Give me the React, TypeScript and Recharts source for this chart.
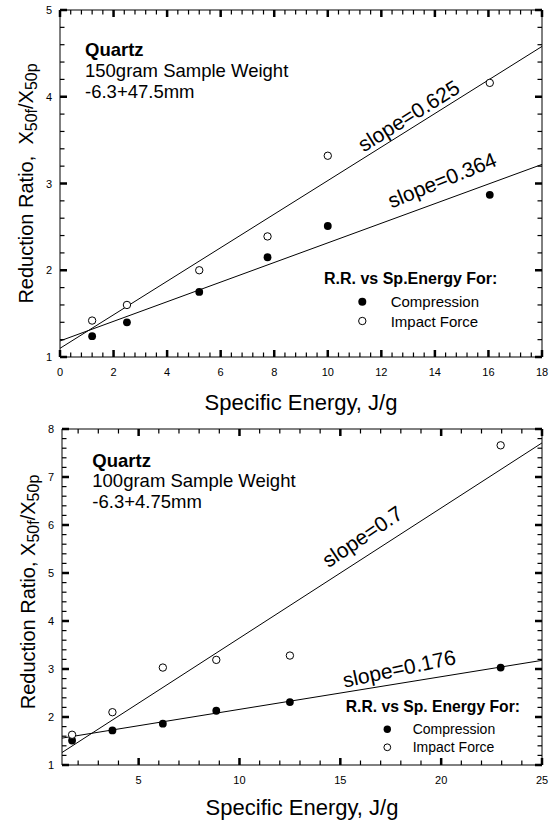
import React from 'react';
import { ScatterChart, Scatter, XAxis, YAxis, ReferenceLine, ReferenceDot } from 'recharts';

document.body.style.margin = '0';

// top panel: 150 gram sample, -6.3+47.5mm
const TOP_ENERGY = [1.2, 2.5, 5.2, 7.75, 10, 16.05];
const TOP_COMPRESSION = [1.24, 1.4, 1.75, 2.15, 2.51, 2.87];
const TOP_IMPACT = [1.42, 1.6, 2.0, 2.39, 3.32, 4.16];
const TOP_FIT_COMPRESSION = [{ x: 0, y: 1.185 }, { x: 18, y: 3.22 }];
const TOP_FIT_IMPACT = [{ x: 0, y: 1.1 }, { x: 18, y: 4.58 }];
const TOP_X_MAJOR = [0, 2, 4, 6, 8, 10, 12, 14, 16, 18];
const TOP_Y_MAJOR = [1, 2, 3, 4, 5];
const TOP_SLOPES = [
  { text: 'slope=0.625', x: 13.02, y: 3.78, angle: -32 },
  { text: 'slope=0.364', x: 14.27, y: 3.04, angle: -22 },
];

// bottom panel: 100 gram sample, -6.3+4.75mm
const BOTTOM_ENERGY = [1.7, 3.7, 6.2, 8.85, 12.5, 22.95];
const BOTTOM_COMPRESSION = [1.51, 1.72, 1.86, 2.13, 2.31, 3.03];
const BOTTOM_IMPACT = [1.63, 2.1, 3.03, 3.19, 3.28, 7.66];
const BOTTOM_FIT_COMPRESSION = [{ x: 1.2, y: 1.56 }, { x: 25, y: 3.18 }];
const BOTTOM_FIT_IMPACT = [{ x: 1.2, y: 1.26 }, { x: 25, y: 7.71 }];
const BOTTOM_X_MAJOR = [5, 10, 15, 20, 25];
const BOTTOM_Y_MAJOR = [1, 2, 3, 4, 5, 6, 7, 8];
const BOTTOM_SLOPES = [
  { text: 'slope=0.7', x: 16.09, y: 5.76, angle: -34 },
  { text: 'slope=0.176', x: 17.92, y: 3.01, angle: -12 },
];

const FONT = 'Arial, "Liberation Sans", sans-serif';
const WIDTH = 550;
const MAJOR = { len: 7, w: 2.5 };
const MINOR = { len: 4.5, w: 1.2 };

const steps = (from: number, to: number, step: number) => {
  const out: number[] = [];
  for (let v = from; v <= to + 1e-9; v += step) out.push(Math.round(v * 1000) / 1000);
  return out;
};
const isMajor = (v: number, majors: number[]) => majors.some((m) => Math.abs(m - v) < 1e-6);

const bottomLabel = (p: any) => (
  <text x={p.x} y={p.y + 19} textAnchor="middle" fontSize={11} fill="#000">{p.payload.value}</text>
);
const leftLabel = (p: any) => (
  <text x={p.x - 8} y={p.y + 4} textAnchor="end" fontSize={11} fill="#000">{p.payload.value}</text>
);
const noLabel = () => <g />;

const filledDot = (p: any) => <circle cx={p.cx} cy={p.cy} r={3.9} fill="#000" />;
const openDot = (p: any) => <circle cx={p.cx} cy={p.cy} r={3.7} fill="#fff" stroke="#000" strokeWidth={1} />;

const yTitle = (gap: string, dx: number, dy: number) => (props: any) => {
  const vb = props.viewBox;
  const cx = vb.x + dx;
  const cy = vb.y + vb.height / 2 + dy;
  return (
    <text x={cx} y={cy} transform={`rotate(-90 ${cx} ${cy})`} textAnchor="middle" fontSize={20} fill="#000" style={{ whiteSpace: 'pre' }}>
      {`Reduction Ratio,${gap}X`}
      <tspan fontSize={16} dy={4}>50f</tspan>
      <tspan fontSize={20} dy={-4}>/X</tspan>
      <tspan fontSize={16} dy={4}>50p</tspan>
    </text>
  );
};
const xTitle = (dy: number) => (props: any) => {
  const vb = props.viewBox;
  return (
    <text x={vb.x + vb.width / 2} y={vb.y + dy} textAnchor="middle" fontSize={22} fill="#000">
      Specific Energy, J/g
    </text>
  );
};

type PanelProps = {
  height: number;
  margin: { top: number; right: number; bottom: number; left: number };
  yAxisWidth: number;
  xAxisHeight: number;
  xDomain: [number, number];
  yDomain: [number, number];
  xAll: number[];
  yAll: number[];
  xMajor: number[];
  yMajor: number[];
  energy: number[];
  compression: number[];
  impact: number[];
  fitCompression: { x: number; y: number }[];
  fitImpact: { x: number; y: number }[];
  slopes: { text: string; x: number; y: number; angle: number }[];
  yLabel: (props: any) => React.ReactNode;
  xLabel: (props: any) => React.ReactNode;
  overlay: React.ReactNode;
};

// inward tick marks on all four sides of the plot frame, placed with the
// same linear mapping the axes use over the plot rectangle
const FrameTicks = (c: PanelProps) => {
  const left = c.margin.left + c.yAxisWidth;
  const right = WIDTH - c.margin.right;
  const top = c.margin.top;
  const bottom = c.height - c.margin.bottom - c.xAxisHeight;
  const sx = (v: number) => left + ((v - c.xDomain[0]) / (c.xDomain[1] - c.xDomain[0])) * (right - left);
  const sy = (v: number) => bottom - ((v - c.yDomain[0]) / (c.yDomain[1] - c.yDomain[0])) * (bottom - top);
  return (
    <g>
      {c.xAll.map((v) => {
        const t = isMajor(v, c.xMajor) ? MAJOR : MINOR;
        const x = sx(v) - t.w / 2;
        return (
          <g key={`x${v}`}>
            <rect x={x} y={bottom - t.len} width={t.w} height={t.len} fill="#000" />
            <rect x={x} y={top} width={t.w} height={t.len} fill="#000" />
          </g>
        );
      })}
      {c.yAll.map((v) => {
        const t = isMajor(v, c.yMajor) ? MAJOR : MINOR;
        const y = sy(v) - t.w / 2;
        return (
          <g key={`y${v}`}>
            <rect x={left} y={y} width={t.len} height={t.w} fill="#000" />
            <rect x={right - t.len} y={y} width={t.len} height={t.w} fill="#000" />
          </g>
        );
      })}
    </g>
  );
};

const Panel = (c: PanelProps) => {
  const comp = c.energy.map((x, i) => ({ x, y: c.compression[i] }));
  const imp = c.energy.map((x, i) => ({ x, y: c.impact[i] }));
  return (
    <div style={{ position: 'relative', width: WIDTH, height: c.height }}>
      <ScatterChart width={WIDTH} height={c.height} margin={c.margin}>
        <XAxis xAxisId="b" type="number" dataKey="x" domain={c.xDomain} allowDataOverflow ticks={c.xMajor} interval={0}
          height={c.xAxisHeight} tickSize={0} tickMargin={0} tickLine={false} tick={bottomLabel}
          axisLine={{ stroke: '#000' }} label={{ content: c.xLabel }} />
        <XAxis xAxisId="t" orientation="top" type="number" domain={c.xDomain} allowDataOverflow ticks={c.xMajor} interval={0}
          mirror height={0.01} tickLine={false} tick={noLabel} axisLine={{ stroke: '#000' }} />
        <YAxis yAxisId="l" type="number" dataKey="y" domain={c.yDomain} allowDataOverflow ticks={c.yMajor} interval={0}
          width={c.yAxisWidth} tickSize={0} tickMargin={0} tickLine={false} tick={leftLabel}
          axisLine={{ stroke: '#000' }} label={{ content: c.yLabel }} />
        <YAxis yAxisId="r" orientation="right" type="number" domain={c.yDomain} allowDataOverflow ticks={c.yMajor} interval={0}
          mirror width={0.01} tickLine={false} tick={noLabel} axisLine={{ stroke: '#000' }} />
        <ReferenceLine xAxisId="b" yAxisId="l" segment={c.fitCompression} stroke="#000" strokeWidth={1} ifOverflow="visible" />
        <ReferenceLine xAxisId="b" yAxisId="l" segment={c.fitImpact} stroke="#000" strokeWidth={1} ifOverflow="visible" />
        {c.slopes.map((s) => (
          <ReferenceDot key={s.text} xAxisId="b" yAxisId="l" x={s.x} y={s.y} r={1} ifOverflow="visible"
            shape={(p: any) => (
              <text x={p.cx} y={p.cy} dy="0.35em" textAnchor="middle" fontSize={21} fill="#000"
                transform={`rotate(${s.angle} ${p.cx} ${p.cy})`}>
                {s.text}
              </text>
            )} />
        ))}
        <Scatter xAxisId="b" yAxisId="l" data={comp} shape={filledDot} isAnimationActive={false} />
        <Scatter xAxisId="b" yAxisId="l" data={imp} shape={openDot} isAnimationActive={false} />
      </ScatterChart>
      <svg width={WIDTH} height={c.height} style={{ position: 'absolute', left: 0, top: 0, pointerEvents: 'none' }}>
        {c.overlay}
        <FrameTicks {...c} />
      </svg>
    </div>
  );
};

const topOverlay = (
  <g fill="#000">
    <text x={85} y={55.7} fontSize={18.5} fontWeight="bold">Quartz</text>
    <text x={85} y={77.3} fontSize={18.5}>150gram Sample Weight</text>
    <text x={85} y={97.5} fontSize={18.5}>-6.3+47.5mm</text>
    <text x={324} y={284.3} fontSize={16} fontWeight="bold">R.R. vs Sp.Energy For:</text>
    <circle cx={362.3} cy={301.7} r={4} fill="#000" />
    <text x={390.7} y={306.7} fontSize={15}>Compression</text>
    <circle cx={362.3} cy={321} r={3.7} fill="#fff" stroke="#000" />
    <text x={390.7} y={327.3} fontSize={15}>Impact Force</text>
  </g>
);

const bottomOverlay = (
  <g fill="#000">
    <text x={92.3} y={47.3} fontSize={18.5} fontWeight="bold">Quartz</text>
    <text x={92.3} y={67.3} fontSize={18.5}>100gram Sample Weight</text>
    <text x={92.3} y={87.7} fontSize={18.5}>-6.3+4.75mm</text>
    <text x={345.7} y={292.3} fontSize={15.7} fontWeight="bold">R.R. vs Sp. Energy For:</text>
    <circle cx={387.3} cy={309.3} r={3.7} fill="#000" />
    <text x={412.7} y={314} fontSize={14}>Compression</text>
    <circle cx={387.3} cy={327.3} r={3.4} fill="#fff" stroke="#000" />
    <text x={412.7} y={331.7} fontSize={14}>Impact Force</text>
  </g>
);

export default function App() {
  return (
    <div style={{ width: WIDTH, fontFamily: FONT }}>
      <Panel
        height={420}
        margin={{ top: 10, right: 8, bottom: 0, left: 0 }}
        yAxisWidth={60}
        xAxisHeight={63}
        xDomain={[0, 18]}
        yDomain={[1, 5]}
        xAll={steps(0, 18, 0.4)}
        yAll={steps(1, 5, 0.2)}
        xMajor={TOP_X_MAJOR}
        yMajor={TOP_Y_MAJOR}
        energy={TOP_ENERGY}
        compression={TOP_COMPRESSION}
        impact={TOP_IMPACT}
        fitCompression={TOP_FIT_COMPRESSION}
        fitImpact={TOP_FIT_IMPACT}
        slopes={TOP_SLOPES}
        yLabel={yTitle('  ', 33, 0)}
        xLabel={xTitle(53)}
        overlay={topOverlay}
      />
      <Panel
        height={405}
        margin={{ top: 9, right: 8, bottom: 0, left: 0 }}
        yAxisWidth={62}
        xAxisHeight={60}
        xDomain={[1.2, 25]}
        yDomain={[1, 8]}
        xAll={steps(2, 25, 1)}
        yAll={steps(1, 8, 0.2)}
        xMajor={BOTTOM_X_MAJOR}
        yMajor={BOTTOM_Y_MAJOR}
        energy={BOTTOM_ENERGY}
        compression={BOTTOM_COMPRESSION}
        impact={BOTTOM_IMPACT}
        fitCompression={BOTTOM_FIT_COMPRESSION}
        fitImpact={BOTTOM_FIT_IMPACT}
        slopes={BOTTOM_SLOPES}
        yLabel={yTitle(' ', 35, -5)}
        xLabel={xTitle(49.5)}
        overlay={bottomOverlay}
      />
    </div>
  );
}
